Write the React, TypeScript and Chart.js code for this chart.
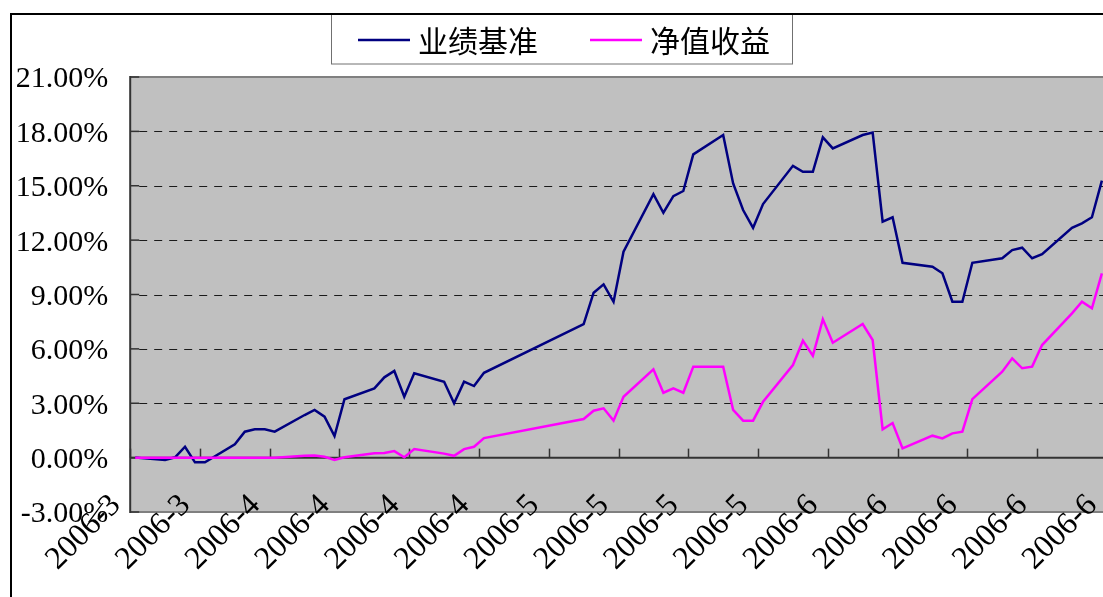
import React, { useEffect, useRef } from "react";
import { Chart, registerables } from "chart.js";

Chart.register(...registerables);

// ---- data ----
const tradeDates = [
  "2006-03-24", "2006-03-27", "2006-03-28", "2006-03-29", "2006-03-30", "2006-03-31",
  "2006-04-03", "2006-04-04", "2006-04-05", "2006-04-06", "2006-04-07",
  "2006-04-10", "2006-04-11", "2006-04-12", "2006-04-13", "2006-04-14",
  "2006-04-17", "2006-04-18", "2006-04-19", "2006-04-20", "2006-04-21",
  "2006-04-24", "2006-04-25", "2006-04-26", "2006-04-27", "2006-04-28",
  "2006-05-08", "2006-05-09", "2006-05-10", "2006-05-11", "2006-05-12",
  "2006-05-15", "2006-05-16", "2006-05-17", "2006-05-18", "2006-05-19",
  "2006-05-22", "2006-05-23", "2006-05-24", "2006-05-25", "2006-05-26",
  "2006-05-29", "2006-05-30", "2006-05-31", "2006-06-01", "2006-06-02",
  "2006-06-05", "2006-06-06", "2006-06-07", "2006-06-08", "2006-06-09",
  "2006-06-12", "2006-06-13", "2006-06-14", "2006-06-15", "2006-06-16",
  "2006-06-19", "2006-06-20", "2006-06-21", "2006-06-22", "2006-06-23",
  "2006-06-26", "2006-06-27", "2006-06-28", "2006-06-29",
];

const benchmark = [
  0.0, -0.13, 0.02, 0.6, -0.26, -0.26,
  0.73, 1.43, 1.56, 1.56, 1.43,
  2.35, 2.63, 2.26, 1.19, 3.22,
  3.82, 4.43, 4.78, 3.36, 4.65,
  4.19, 3.0, 4.19, 3.95, 4.68,
  7.37, 9.1, 9.56, 8.6, 11.36,
  14.54, 13.51, 14.43, 14.71, 16.73,
  17.8, 15.13, 13.66, 12.68, 13.99,
  16.1, 15.77, 15.77, 17.67, 17.06,
  17.8, 17.93, 13.02, 13.26, 10.75,
  10.53, 10.17, 8.6, 8.6, 10.75,
  11.0, 11.45, 11.58, 11.0, 11.22,
  12.68, 12.93, 13.26, 15.28,
];

const navReturn = [
  0.0, 0.0, 0.0, 0.0, 0.0, 0.0,
  0.0, 0.0, 0.0, 0.0, 0.0,
  0.1, 0.12, 0.05, -0.13, 0.02,
  0.24, 0.25, 0.36, 0.02, 0.47,
  0.22, 0.1, 0.47, 0.6, 1.08,
  2.13, 2.59, 2.72, 2.04, 3.36,
  4.87, 3.58, 3.82, 3.58, 5.02,
  5.02, 2.63, 2.04, 2.04, 3.08,
  5.11, 6.45, 5.62, 7.63, 6.34,
  7.37, 6.49, 1.56, 1.91, 0.51,
  1.21, 1.06, 1.34, 1.43, 3.23,
  4.74, 5.48, 4.93, 5.02, 6.21,
  7.96, 8.6, 8.24, 10.17,
];

const tickLabels = [
  "2006-3", "2006-3", "2006-4", "2006-4", "2006-4", "2006-4",
  "2006-5", "2006-5", "2006-5", "2006-5",
  "2006-6", "2006-6", "2006-6", "2006-6", "2006-6",
];

const seriesNames = ["业绩基准", "净值收益"];
const seriesColors = ["#000080", "#FF00FF"];

const TICK_STEP_DAYS = 7;
const AXIS_START = Date.UTC(2006, 2, 24);
const dayIndex = (d: string) =>
  Math.round((Date.parse(d + "T00:00:00Z") - AXIS_START) / 86400000);

const serifFont = '"Liberation Serif", "DejaVu Serif", serif';
const X_LABEL_SIZE = 32;

const plotAreaPlugin = {
  id: "plotAreaPlugin",
  beforeDraw(chart: any) {
    const { ctx, chartArea: a, scales } = chart;
    const x = scales.x;
    const y = scales.y;
    ctx.save();
    ctx.fillStyle = "#C0C0C0";
    ctx.fillRect(a.left, a.top, a.right - a.left, a.bottom - a.top);

    // dashed horizontal gridlines
    ctx.strokeStyle = "#1a1a1a";
    ctx.lineWidth = 1;
    ctx.setLineDash([8, 7]);
    y.ticks.forEach((t: any) => {
      if (t.value <= 0 || t.value >= y.max) return;
      const py = Math.round(y.getPixelForValue(t.value)) + 0.5;
      ctx.beginPath();
      ctx.moveTo(a.left + 9, py);
      ctx.lineTo(a.right, py);
      ctx.stroke();
    });
    ctx.setLineDash([]);

    // top / bottom plot border
    ctx.strokeStyle = "#808080";
    ctx.lineWidth = 2;
    ctx.beginPath();
    ctx.moveTo(a.left, a.top);
    ctx.lineTo(a.right, a.top);
    ctx.moveTo(a.left, a.bottom);
    ctx.lineTo(a.right, a.bottom);
    ctx.stroke();

    // y axis line + inward ticks
    ctx.strokeStyle = "#333333";
    ctx.lineWidth = 2;
    ctx.beginPath();
    ctx.moveTo(a.left, a.top - 1);
    ctx.lineTo(a.left, a.bottom + 1);
    ctx.stroke();
    ctx.lineWidth = 1.5;
    y.ticks.forEach((t: any) => {
      const py = y.getPixelForValue(t.value);
      ctx.beginPath();
      ctx.moveTo(a.left, py);
      ctx.lineTo(a.left + 9, py);
      ctx.stroke();
    });

    // zero axis line + upward ticks
    const y0 = y.getPixelForValue(0);
    ctx.lineWidth = 2;
    ctx.beginPath();
    ctx.moveTo(a.left, y0);
    ctx.lineTo(a.right, y0);
    ctx.stroke();
    ctx.lineWidth = 1.5;
    x.ticks.forEach((t: any) => {
      const px = Math.round(x.getPixelForValue(t.value)) + 0.5;
      ctx.beginPath();
      ctx.moveTo(px, y0);
      ctx.lineTo(px, y0 - 9);
      ctx.stroke();
    });
    ctx.restore();
  },
  afterDraw(chart: any) {
    // rotated category labels, anchored a little above/left of each tick (Excel "low" labels)
    const { ctx, chartArea: a, scales } = chart;
    const x = scales.x;
    ctx.save();
    ctx.fillStyle = "#000";
    ctx.font = `${X_LABEL_SIZE}px ${serifFont}`;
    ctx.textAlign = "right";
    ctx.textBaseline = "middle";
    x.ticks.forEach((t: any, i: number) => {
      const px = x.getPixelForValue(t.value);
      ctx.save();
      ctx.translate(px - 28, a.bottom - 25);
      ctx.rotate(-Math.PI / 4);
      ctx.fillText(tickLabels[i], 0, (X_LABEL_SIZE * 1.2) / 2);
      ctx.restore();
    });
    ctx.restore();
  },
};

const frameLegendPlugin = {
  id: "frameLegendPlugin",
  afterDraw(chart: any) {
    const ctx = chart.ctx;
    ctx.save();
    // legend box
    ctx.fillStyle = "#FFFFFF";
    ctx.fillRect(331, 14, 462, 50);
    ctx.strokeStyle = "#707070";
    ctx.lineWidth = 1;
    ctx.strokeRect(331.5, 14.5, 461, 49.5);
    const starts = [358, 590];
    chart.data.datasets.forEach((ds: any, i: number) => {
      const sx = starts[i];
      ctx.strokeStyle = ds.borderColor;
      ctx.lineWidth = 2.5;
      ctx.beginPath();
      ctx.moveTo(sx, 40);
      ctx.lineTo(sx + 52, 40);
      ctx.stroke();
      ctx.fillStyle = "#000";
      ctx.font = '30px "Noto Sans CJK SC", sans-serif';
      ctx.textBaseline = "alphabetic";
      ctx.textAlign = "left";
      ctx.fillText(ds.label, sx + 60, 52);
    });
    // outer frame
    ctx.strokeStyle = "#000";
    ctx.lineWidth = 2;
    ctx.beginPath();
    ctx.moveTo(11, 700);
    ctx.lineTo(11, 14);
    ctx.lineTo(1300, 14);
    ctx.stroke();
    ctx.restore();
  },
};

export default function App() {
  const canvasRef = useRef<HTMLCanvasElement | null>(null);

  useEffect(() => {
    if (!canvasRef.current) return;
    const seriesValues = [benchmark, navReturn];
    const chart = new Chart(canvasRef.current, {
      type: "line",
      data: {
        datasets: seriesValues.map((vals, si) => ({
          label: seriesNames[si],
          data: tradeDates.map((d, i) => ({ x: dayIndex(d) + 0.5, y: vals[i] })),
          borderColor: seriesColors[si],
          backgroundColor: seriesColors[si],
          borderWidth: 2.5,
          pointRadius: 0,
          fill: false,
          tension: 0,
          order: si === 0 ? 1 : 0,
        })),
      },
      options: {
        responsive: false,
        animation: false,
        events: [],
        layout: { padding: { left: 0, top: 77, right: 73.2, bottom: 48 } },
        plugins: { legend: { display: false }, tooltip: { enabled: false } },
        scales: {
          x: {
            type: "linear",
            min: 0,
            max: 100,
            grid: { display: false, drawTicks: false },
            border: { display: false },
            afterBuildTicks: (s: any) => {
              s.ticks = tickLabels.map((_, i) => ({ value: i * TICK_STEP_DAYS }));
            },
            afterFit: (s: any) => {
              s.height = 90;
            },
            ticks: {
              display: false,
              autoSkip: false,
              callback: (_v: any, i: number) => tickLabels[i],
            },
          },
          y: {
            type: "linear",
            min: -3,
            max: 21,
            grid: { display: false, drawTicks: false },
            border: { display: false },
            afterFit: (s: any) => {
              s.width = 130.2;
            },
            ticks: {
              stepSize: 3,
              padding: 22,
              labelOffset: 2.5,
              color: "#000",
              font: { family: serifFont, size: 30 },
              callback: (v: any) => Number(v).toFixed(2) + "%",
            },
          },
        },
      },
      plugins: [plotAreaPlugin, frameLegendPlugin],
    } as any);
    return () => chart.destroy();
  }, []);

  return (
    <div
      style={{
        position: "fixed",
        left: 0,
        top: 0,
        width: 1103,
        height: 597,
        overflow: "hidden",
        background: "#fff",
      }}
    >
      <canvas ref={canvasRef} width={1200} height={650} style={{ display: "block" }} />
    </div>
  );
}
